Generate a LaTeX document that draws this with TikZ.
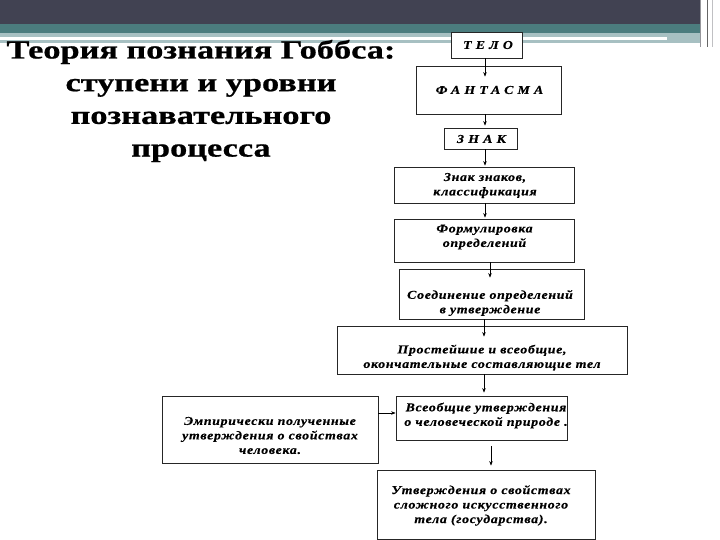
\documentclass[tikz,border=0pt]{standalone}
\usepackage{fontspec}
\setmainfont{Liberation Serif}
\newfontfamily\titlefont[FakeStretch=1.32,FakeBold=0.8]{Liberation Serif}
\newfontfamily\boxfont[FakeStretch=1.15,LetterSpace=6,FakeBold=0.5]{Liberation Serif}
\newfontfamily\capfont[FakeStretch=1.15,LetterSpace=35,FakeBold=0.5]{Liberation Serif}
\usetikzlibrary{calc,arrows.meta}
\definecolor{bandDark}{RGB}{65,66,82}
\definecolor{bandTeal}{RGB}{75,124,126}
\definecolor{bandLight}{RGB}{167,192,194}
\definecolor{edgeGrey}{RGB}{150,150,155}
\tikzset{
  box/.style={draw=black!85, line width=0.8pt, fill=white, inner sep=0pt},
  txt/.style={align=center, inner sep=0pt, font=\boxfont\fontsize{12}{14.5}\selectfont\bfseries\itshape},
  captxt/.style={align=center, inner sep=0pt, font=\capfont\fontsize{12}{14}\selectfont\bfseries\itshape},
  arr/.style={line width=0.6pt, -{Stealth[length=4.5pt,width=3.5pt]}},
  ttl/.style={align=center, inner sep=0pt, font=\titlefont\fontsize{26}{32.7}\selectfont\bfseries}
}
\begin{document}
\begin{tikzpicture}[x=1pt,y=-1pt]
\useasboundingbox (0,0) rectangle (720,540);
% top bands
\fill[bandDark] (0,0) rectangle (700,24);
\fill[bandTeal] (0,24) rectangle (700,33);
\fill[bandLight] (0,33) rectangle (700,43);
\fill[white] (0,37.5) rectangle (667,40.5);
\draw[edgeGrey, line width=0.8pt] (700,0) -- (700,47);
\draw[black!60, line width=0.8pt] (707,0) -- (707,47);
\draw[edgeGrey!60, line width=0.8pt] (712,0) -- (712,47);
% title
\node[ttl] (title) at (201,101) {Теория познания Гоббса:\\ступени и уровни\\познавательного\\процесса};
% boxes
\node[box, minimum width=71, minimum height=26] (telo) at (486.5,45) {};
\node[box, minimum width=145, minimum height=48] (fant) at (488.5,90) {};
\node[box, minimum width=73, minimum height=21] (znak) at (480.5,138.5) {};
\node[box, minimum width=180, minimum height=36] (zz) at (484,185) {};
\node[box, minimum width=180, minimum height=43] (form) at (484,240.5) {};
\node[box, minimum width=185, minimum height=50] (soed) at (491.5,294) {};
\node[box, minimum width=290, minimum height=48] (prost) at (482,350) {};
\node[box, minimum width=171, minimum height=44] (vseob) at (481.5,418) {};
\node[box, minimum width=216, minimum height=67] (emp) at (270,429.5) {};
\node[box, minimum width=218, minimum height=69] (utv) at (486,504.5) {};
% texts
\node[captxt] (telot) at (488,45) {ТЕЛО};
\node[captxt] (fantt) at (489.5,90) {ФАНТАСМА};
\node[captxt] (znakt) at (481.5,139) {ЗНАК};
\node[txt] (zzt) at (485,185.5) {Знак знаков,\\классификация};
\node[txt] (formt) at (484.5,237) {Формулировка\\определений};
\node[txt] (soedt) at (490,303) {Соединение определений\\в утверждение};
\node[txt] (prostt) at (482,357.5) {Простейшие и всеобщие,\\окончательные составляющие тел};
\node[txt] (vseobt) at (486,415.5) {Всеобщие утверждения\\о человеческой природе .};
\node[txt] (empt) at (270,435.5) {Эмпирически полученные\\утверждения о свойствах\\человека.};
\node[txt] (utvt) at (481,505.5) {Утверждения о свойствах\\сложного искусственного\\тела (государства).};
% connectors
\coordinate (c1) at ($(telo.south)+(-1.5,0)$);
\draw[arr] (c1) -- ($(c1 |- fant.north)+(0,11)$);
\coordinate (c2) at ($(fant.south)+(-3.5,0)$);
\draw[arr] (c2) -- ($(c2 |- znak.north)+(0,-2)$);
\coordinate (c3) at ($(znak.south)+(4.5,0)$);
\draw[arr] (c3) -- ($(c3 |- zz.north)+(0,-1)$);
\coordinate (c4) at ($(zz.south)+(1,0)$);
\draw[arr] (c4) -- ($(c4 |- form.north)+(0,-1)$);
\coordinate (c5) at ($(form.south)+(6,0)$);
\draw[arr] (c5) -- ($(c5 |- soed.north)+(0,9)$);
\coordinate (c6) at ($(soed.south)+(-7.5,0)$);
\draw[arr] (c6) -- ($(c6 |- prost.north)+(0,11)$);
\coordinate (c7) at ($(prost.south)+(2,0)$);
\draw[arr] (c7) -- ($(c7 |- vseob.north)+(0,-3)$);
\coordinate (c8) at ($(emp.east)+(0,-16.5)$);
\draw[arr] (c8) -- (c8 -| vseob.west);
\coordinate (c9) at ($(vseob.south)+(9.5,6)$);
\draw[arr] (c9) -- ($(c9 |- utv.north)+(0,-4)$);
\end{tikzpicture}
\end{document}
